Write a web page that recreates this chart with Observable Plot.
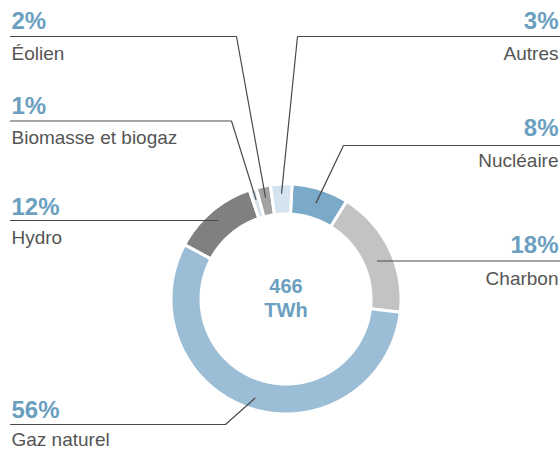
<!DOCTYPE html>
<html>
<head>
<meta charset="utf-8">
<script src="https://cdn.jsdelivr.net/npm/d3@7"></script>
<script src="https://cdn.jsdelivr.net/npm/@observablehq/plot@0.6"></script>
<style>
  html, body { margin: 0; padding: 0; background: #fff; }
  #chart { width: 560px; height: 450px; }
  #chart svg { display: block; font-family: "Liberation Sans", Arial, Helvetica, sans-serif; }
</style>
</head>
<body>
<div id="chart"></div>
<script>
// ---- data ----
const categories = ["Nucléaire", "Charbon", "Gaz naturel", "Hydro", "Biomasse et biogaz", "Éolien", "Autres"];
const shares = [8, 18, 56, 12, 1, 2, 3];               // % of total
const sliceColors = ["#7aaac7", "#c3c3c3", "#9bbdd5", "#808080", "#d4e4ef", "#a3a3a3", "#d5e3ee"];
const totalValue = "466";
const totalUnit = "TWh";

// ---- layout (positions kept apart from data) ----
const W = 560, H = 450;
const cx = 285.5, cy = 298.5, rOuter = 115, rInner = 85;
const startDeg = 3; // first slice starts slightly right of top, clockwise
const layout = {
  "Éolien":             {side: "left",  pctY: 28,  nameY: 59,  lineY: 36,    elbowX: 236, endR: 104},
  "Biomasse et biogaz": {side: "left",  pctY: 113, nameY: 143, lineY: 120.5, elbowX: 231, endR: 104},
  "Hydro":              {side: "left",  pctY: 214, nameY: 243, lineY: 220,   elbowX: null, endR: 104},
  "Gaz naturel":        {side: "left",  pctY: 417, nameY: 445, lineY: 424,   elbowX: 225, endR: 104},
  "Autres":             {side: "right", pctY: 28,  nameY: 59,  lineY: 36,    elbowX: 297, endR: 106},
  "Nucléaire":          {side: "right", pctY: 135, nameY: 166, lineY: 145,   elbowX: 343, endR: 101},
  "Charbon":            {side: "right", pctY: 252, nameY: 284, lineY: 260.5, elbowX: null, endR: 99}
};
const leftX = 11, rightX = 558, lineLeft = 10, lineRight = 560;

// ---- derived geometry ----
const pie = d3.pie().sort(null).value(d => d.share)
  .startAngle(startDeg * Math.PI / 180).endAngle(startDeg * Math.PI / 180 + 2 * Math.PI);
const rows = categories.map((c, i) => ({cat: c, share: shares[i]}));
const arcs = pie(rows);
const px = (a, r) => cx + r * Math.sin(a);
const py = (a, r) => cy - r * Math.cos(a);

const slicePts = [];
arcs.forEach(a => {
  const n = Math.max(4, Math.ceil((a.endAngle - a.startAngle) / (Math.PI / 360)));
  for (let k = 0; k <= n; k++) {
    const t = a.startAngle + (a.endAngle - a.startAngle) * k / n;
    slicePts.push({cat: a.data.cat, x: px(t, rOuter), y: py(t, rOuter)});
  }
  for (let k = n; k >= 0; k--) {
    const t = a.startAngle + (a.endAngle - a.startAngle) * k / n;
    slicePts.push({cat: a.data.cat, x: px(t, rInner), y: py(t, rInner)});
  }
});

const leaderPts = [];
const labels = [];
arcs.forEach(a => {
  const c = a.data.cat, L = layout[c];
  const mid = (a.startAngle + a.endAngle) / 2;
  const left = L.side === "left";
  const edgeX = left ? lineLeft : lineRight;
  let end;
  if (L.elbowX == null) {
    const dy = L.lineY - cy;
    const dx = Math.sqrt(L.endR * L.endR - dy * dy);
    end = {x: left ? cx - dx : cx + dx, y: L.lineY};
    leaderPts.push({cat: c, x: edgeX, y: L.lineY}, {cat: c, x: end.x, y: end.y});
  } else {
    end = {x: px(mid, L.endR), y: py(mid, L.endR)};
    leaderPts.push({cat: c, x: edgeX, y: L.lineY}, {cat: c, x: L.elbowX, y: L.lineY}, {cat: c, x: end.x, y: end.y});
  }
  labels.push({cat: c, pct: a.data.share + "%", x: left ? leftX : rightX, pctY: L.pctY, nameY: L.nameY, anchor: left ? "start" : "end"});
});

const pctColor = "#6b9fc0";
const textColor = "#555555";

const chart = Plot.plot({
  width: W, height: H,
  margin: 0,
  x: {domain: [0, W], range: [0, W], axis: null},
  y: {domain: [0, H], range: [0, H], axis: null},
  color: {domain: categories, range: sliceColors},
  marks: [
    Plot.line(slicePts, {x: "x", y: "y", z: "cat", fill: "cat", stroke: "white", strokeWidth: 3, curve: "linear-closed"}),
    Plot.line(leaderPts, {x: "x", y: "y", z: "cat", stroke: "#4a4a4a", strokeWidth: 1.2}),
    Plot.text(labels.filter(d => d.anchor === "start"), {x: "x", y: "pctY", text: "pct", textAnchor: "start", lineAnchor: "bottom", fontSize: 24, fontWeight: "bold", fill: pctColor, style: "letter-spacing:1.8px"}),
    Plot.text(labels.filter(d => d.anchor === "end"), {x: "x", y: "pctY", text: "pct", textAnchor: "end", lineAnchor: "bottom", fontSize: 24, fontWeight: "bold", fill: pctColor, style: "letter-spacing:1.8px"}),
    Plot.text(labels.filter(d => d.anchor === "start"), {x: "x", y: "nameY", text: "cat", textAnchor: "start", lineAnchor: "bottom", fontSize: 19, fill: textColor}),
    Plot.text(labels.filter(d => d.anchor === "end"), {x: "x", y: "nameY", text: "cat", textAnchor: "end", lineAnchor: "bottom", fontSize: 19, fill: textColor}),
    Plot.text([totalValue + "\n" + totalUnit], {x: cx, y: 316, text: d => d, textAnchor: "middle", lineAnchor: "bottom", lineHeight: 1.2, fontSize: 20, fontWeight: "bold", fill: pctColor, style: "letter-spacing:1.5px"})
  ]
});
document.getElementById("chart").appendChild(chart);
</script>
</body>
</html>
